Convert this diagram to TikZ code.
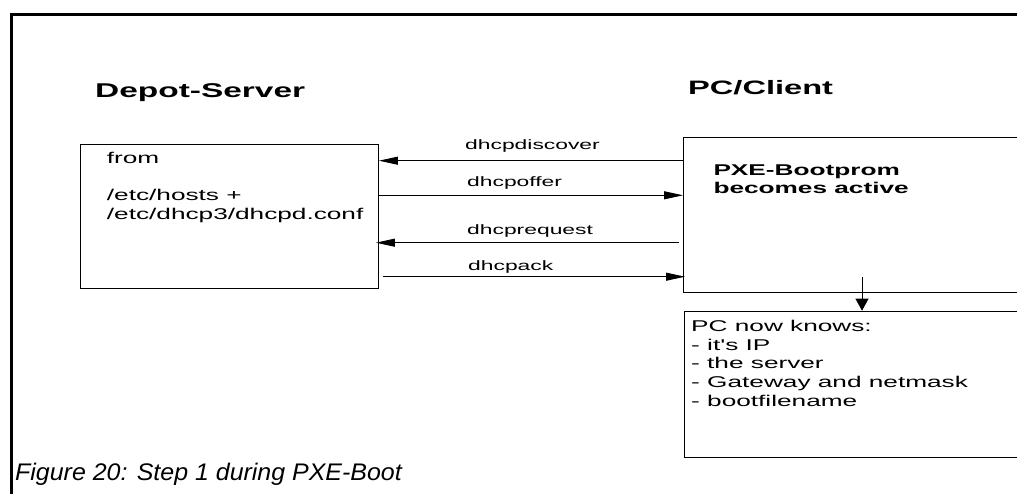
\documentclass[tikz,border=0pt]{standalone}
\usepackage{fontspec}
\usepackage{graphicx}
\usetikzlibrary{arrows.meta}
\newfontfamily\arial{Liberation Sans}
% horizontally widened text
\newcommand\wide[2][1.68]{\scalebox{#1}[1]{#2}}

\begin{document}
\begin{tikzpicture}[x=1pt,y=-1pt,
  box/.style={draw=black, line width=0.9pt, inner sep=0pt, anchor=north west},
  msg/.style={draw=black, line width=0.9pt, -{Triangle[length=19pt,width=8pt]}},
  txt/.style={inner sep=0pt, anchor=base west},
  bodyfont/.style={font=\arial\fontsize{15.6}{18.6}\selectfont},
  boldfont/.style={font=\arial\bfseries\fontsize{15.6}{18.3}\selectfont},
  msgfont/.style={font=\arial\fontsize{13.6}{16}\selectfont},
]
\useasboundingbox (0,0) rectangle (1017,494);
\clip (0,0) rectangle (1017,494);

% outer frame (top and left sides)
\draw[line width=3pt, line join=miter] (11.5,500) -- (11.5,14.5) -- (1040,14.5);

% headings
\node[txt, font=\arial\bfseries\fontsize{19.9}{22}\selectfont] (srvhead) at (95,97.7) {\wide{Depot-Server}};
\node[txt, font=\arial\bfseries\fontsize{19.4}{22}\selectfont] (pchead) at (688,95) {\wide{PC/Client}};

% boxes
\node[box, minimum width=298pt, minimum height=144pt] (server) at (80,144) {};
\node[box, minimum width=360pt, minimum height=155pt] (pxe) at (683,137) {};
\node[box, minimum width=360pt, minimum height=146pt] (knows) at (684,310.7) {};

% box contents
\node[txt, bodyfont] (srvtext) at (106.7,163.3)
  {\wide{\begin{tabular}[t]{@{}l@{}}from\\ \\/etc/hosts +\\/etc/dhcp3/dhcpd.conf\end{tabular}}};
\node[txt, boldfont] (pxetext) at (713.3,175.7)
  {\wide{\begin{tabular}[t]{@{}l@{}}PXE-Bootprom\\becomes active\end{tabular}}};
\node[txt, bodyfont] (knowstext) at (691,331.7)
  {\wide{\begin{tabular}[t]{@{}l@{}}PC now knows:\\- it's IP\\- the server\\- Gateway and netmask\\- bootfilename\end{tabular}}};

% DHCP message rows
\coordinate (r1) at (0,160.7);
\coordinate (r2) at (0,195.3);
\coordinate (r3) at (0,242.7);
\coordinate (r4) at (0,276.7);

\draw[msg] (pxe.west |- r1) -- (server.east |- r1);
\draw[msg] (server.east |- r2) -- (pxe.west |- r2);
\draw[msg, shorten <=4pt, shorten >=-3pt] (pxe.west |- r3) -- (server.east |- r3);
\draw[msg, shorten <=4pt, shorten >=-2pt] (server.east |- r4) -- (pxe.west |- r4);

\node[txt, msgfont] (m1) at (465,150) {\wide{dhcpdiscover}};
\node[txt, msgfont] (m2) at (467,186.5) {\wide{dhcpoffer}};
\node[txt, msgfont] (m3) at (467,235) {\wide{dhcprequest}};
\node[txt, msgfont] (m4) at (468,271) {\wide{dhcpack}};

% result arrow
\coordinate (drop) at (862,277);
\draw[line width=0.9pt, -{Triangle[length=12pt,width=13pt]}] (drop) -- (knows.north -| drop);

% caption
\node[txt, font=\arial\itshape\fontsize{24}{28}\selectfont] (caption) at (15,480)
  {\wide[1.04]{Figure 20: Step 1 during PXE-Boot}};
\end{tikzpicture}
\end{document}
